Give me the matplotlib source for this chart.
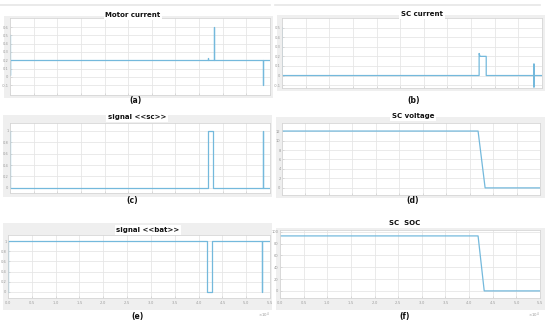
import numpy as np
import matplotlib
matplotlib.use('Agg')
import matplotlib.pyplot as plt
from matplotlib.patches import Rectangle
from matplotlib.ticker import ScalarFormatter

W, H = 550, 324

# time in seconds (axis shown as x10^4)
t_motor = [0, 0, 0, 41900, 41900, 41900, 43200, 43200, 43200, 53500, 53500, 53500, 55000]
i_motor = [0.5, 0.02, 0.2, 0.2, 0.23, 0.2, 0.2, 0.6, 0.2, 0.2, -0.1, 0.2, 0.2]

t_sc = [0, 0, 41700, 41700, 41900, 43200, 43200, 53300, 53300, 53300, 53300, 55000]
i_sc = [0.5, 0, 0, 0.23, 0.2, 0.2, 0, 0, 0.12, -0.12, 0, 0]

t_sig_sc = [0, 0, 41900, 41900, 42900, 42900, 53500, 53500, 53500, 55000]
s_sc = [1, 0, 0, 1, 1, 0, 0, 1, 0, 0]

t_volt = [0, 41800, 43300, 55000]
v_sc = [12, 12, 0, 0]

t_sig_bat = [0, 0, 41800, 41800, 42900, 42900, 53400, 53400, 53400, 55000]
s_bat = [0, 1, 1, 0, 0, 1, 1, 0, 1, 1]

t_soc = [0, 41900, 43200, 55000]
soc = [93, 93, 0, 0]

panels = [
    # title, label, t, y, yticks, ylim, axes px (l,t,r,b), frame px, title xy, label xy, xlabels
    ('Motor current', '(a)', t_motor, i_motor, np.arange(-0.1, 0.61, 0.1), (-0.22, 0.71),
     (10, 18, 270, 95), (4, 16, 273, 98), (133, 15), (135, 100), False),
    ('SC current', '(b)', t_sc, i_sc, np.arange(-0.1, 0.51, 0.1), (-0.13, 0.6),
     (282, 18, 542, 88), (277, 15, 545, 91), (422, 14), (414, 100), False),
    ('signal <<sc>>', '(c)', t_sig_sc, s_sc, np.arange(0, 1.01, 0.2), (-0.09, 1.14),
     (10, 123, 270, 193), (3, 115, 272, 197), (137, 117), (132, 200), False),
    ('SC voltage', '(d)', t_volt, v_sc, np.arange(0, 12.1, 2), (-1.5, 13.7),
     (282, 123, 540, 195), (276, 117, 545, 198), (413, 116), (413, 200), False),
    ('signal <<bat>>', '(e)', t_sig_bat, s_bat, np.arange(0, 1.01, 0.2), (-0.12, 1.12),
     (8, 235, 270, 298), (3, 223, 272, 310), (148, 230), (137, 317), True),
    ('SC  SOC', '(f)', t_soc, soc, np.arange(0, 101, 20), (-12, 103),
     (280, 230, 540, 298), (276, 228, 545, 310), (405, 223), (405, 317), True),
]

line_color = '#74b9dc'
grid_color = '#e6e6e6'
tick_color = '#9a9a9a'

fig = plt.figure(figsize=(W / 100, H / 100), dpi=100)
fig.patch.set_facecolor('white')

# thin separator lines at the very top
fig.add_artist(plt.Line2D([0 / W, 270 / W], [1 - 5 / H, 1 - 5 / H], color='#e6e6e6', lw=1.2))
fig.add_artist(plt.Line2D([275 / W, 540 / W], [1 - 5 / H, 1 - 5 / H], color='#e6e6e6', lw=1.2))

for (title, label, t, y, yticks, ylim, ax_px, fr_px, t_xy, l_xy, show_x) in panels:
    l, tp, r, b = fr_px
    fig.add_artist(Rectangle((l / W, 1 - b / H), (r - l) / W, (b - tp) / H,
                             transform=fig.transFigure, facecolor='#efefef',
                             edgecolor='none', zorder=0))
    l, tp, r, b = ax_px
    ax = fig.add_axes([l / W, 1 - b / H, (r - l) / W, (b - tp) / H])
    ax.set_facecolor('white')
    ax.plot(t, y, color=line_color, lw=0.9)
    ax.set_xlim(0, 55000)
    ax.set_ylim(*ylim)
    ax.set_xticks(np.arange(0, 55001, 5000))
    ax.set_yticks(yticks)
    ax.yaxis.set_major_formatter(matplotlib.ticker.FormatStrFormatter('%g'))
    ax.grid(True, color=grid_color, lw=0.6)
    ax.set_axisbelow(True)
    for s in ax.spines.values():
        s.set_color('#d6d6d6')
        s.set_linewidth(0.6)
    ax.tick_params(axis='both', length=1.5, width=0.4, color='#c8c8c8',
                   labelsize=2.6, labelcolor=tick_color, pad=1, direction='in')
    if show_x:
        fmt = ScalarFormatter(useMathText=True)
        fmt.set_powerlimits((0, 0))
        ax.xaxis.set_major_formatter(fmt)
        ax.xaxis.get_offset_text().set_fontsize(2.8)
        ax.xaxis.get_offset_text().set_color(tick_color)
    else:
        ax.set_xticklabels([])

    fig.text(t_xy[0] / W, 1 - t_xy[1] / H, title, ha='center', va='center',
             fontsize=5, fontweight='bold', color='#111111',
             bbox=dict(facecolor='white', edgecolor='none', pad=1.2))
    fig.text(l_xy[0] / W, 1 - l_xy[1] / H, label, ha='center', va='center',
             fontsize=5.5, fontweight='bold', color='#111111')

fig.savefig('out.png', dpi=100)
